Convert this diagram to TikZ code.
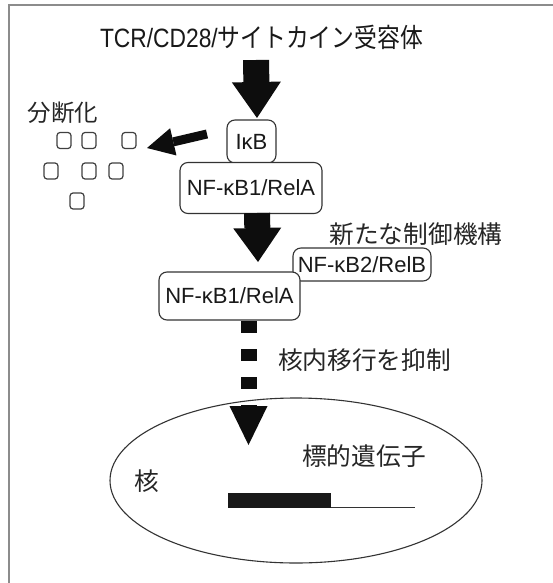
\documentclass[tikz,border=0pt]{standalone}
\usepackage{fontspec}
\usepackage{graphicx}
\setmainfont{Liberation Sans}
\newfontfamily\jp{Noto Sans CJK JP}
\usetikzlibrary{arrows.meta,shapes.geometric}
\begin{document}
\begin{tikzpicture}[x=1pt,y=-1pt,
  box/.style={draw=black!80, line width=1.1pt, rounded corners=8pt, fill=white,
    inner sep=0pt, text=black!90, font=\fontsize{22}{22}\selectfont},
  jlabel/.style={inner sep=0pt, text=black!85, font=\jp\fontsize{24.7}{24.7}\selectfont},
  frag/.style={draw=black!75, line width=1.2pt, rounded corners=3pt, minimum width=14pt,
    minimum height=16pt, inner sep=0pt},
  blockarrow/.style={line width=#1, draw=black!95},
]
\useasboundingbox (0,0) rectangle (553,583);
\fill[white] (0,0) rectangle (553,583);
\draw[black!45, line width=2pt] (9,583) -- (9,5) -- (553,5);

% title
\node[anchor=base, inner sep=0pt, text=black!90, font=\fontsize{26.5}{26.5}\selectfont] (title) at (261.5,48)
  {\scalebox{0.86}[1]{TCR/CD28/{\jp サイトカイン受容体}}};

% boxes
\node[box, minimum width=49pt, minimum height=43pt] (ikb) at (251.5,141.5) {IκB};
\node[box, minimum width=142pt, minimum height=51pt] (nf1) at (251,188) {NF-κB1/RelA};
\node[box, minimum width=138pt, minimum height=33pt] (relb) at (362,264.5) {NF-κB2/RelB};
\node[box, minimum width=141pt, minimum height=48pt] (nf1b) at (229.5,296) {NF-κB1/RelA};

% labels
\node[jlabel, font=\jp\fontsize{23.5}{23.5}\selectfont] (bundan) at (63,113) {分断化};
\node[jlabel] (shinta) at (416,234) {新たな制御機構};
\node[jlabel] (kakunai) at (364.5,360) {核内移行を抑制};

% fragments
\node[frag] (s1) at (64,140.5) {};
\node[frag] (s2) at (89,140.5) {};
\node[frag] (s3) at (129,140.5) {};
\node[frag] (s4) at (51,171) {};
\node[frag] (s5) at (89,171) {};
\node[frag] (s6) at (116,171) {};
\node[frag] (s7) at (77,201) {};

% nucleus
\node[ellipse, draw=black!80, line width=1.1pt, minimum width=372pt, minimum height=165pt,
  inner sep=0pt] (nuc) at (296,480.5) {};
\node[jlabel] (kaku) at (146.5,481) {核};
\node[jlabel] (gene) at (364,456) {標的遺伝子};
\coordinate (gs) at (228,493);
\coordinate (ge) at (331,508);
\fill[black!90] (gs) rectangle (ge);
\draw[black!80, line width=1.2pt] (ge) ++(0,-0.6) -- (415,507.4);

% arrows
\coordinate (a1s) at (256,60);
\coordinate (a1e) at (257,118);
\draw[blockarrow=26pt, -{Triangle[length=36pt,width=49pt,line width=0pt]}] (a1s) -- (a1e);
\coordinate (a2s) at (257,213);
\coordinate (a2e) at (258,262);
\draw[blockarrow=26pt, -{Triangle[length=34pt,width=48pt,line width=0pt]}] (a2s) -- (a2e);
\coordinate (fs) at (207,134);
\coordinate (fe) at (147,148);
\draw[blockarrow=9pt, -{Triangle[length=27pt,width=28pt,line width=0pt]}] (fs) -- (fe);
\coordinate (ds) at (248.5,321);
\coordinate (de) at (248.5,445);
\draw[blockarrow=16pt, dash pattern=on 12pt off 16pt,
  -{Triangle[length=39pt,width=38pt,line width=0pt]}] (ds) -- (de);
\end{tikzpicture}
\end{document}
